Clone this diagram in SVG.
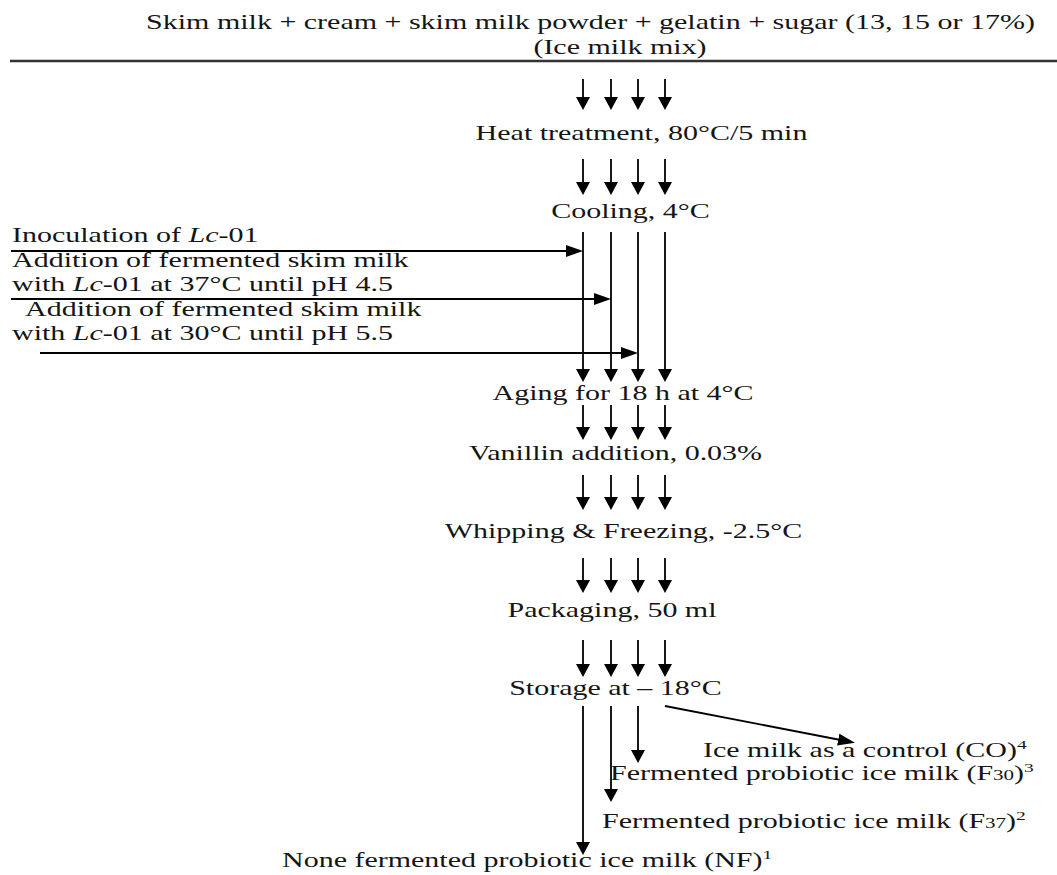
<svg xmlns="http://www.w3.org/2000/svg" width="1057" height="875" viewBox="0 0 1057 875">
<style>
.t{font-family:"Liberation Serif","Times New Roman",serif;font-size:20px;fill:#151515}
.c{text-anchor:middle}
.i{font-style:italic}
.sup{font-size:13px}
.sm{font-size:14px}
.ln{stroke:#000;stroke-width:1.8;fill:none}
</style>
<defs>
<marker id="av" markerUnits="userSpaceOnUse" markerWidth="14" markerHeight="14" viewBox="0 0 13 14" refX="9" refY="7" orient="auto">
<path d="M0,0 L13,7 L0,14 Z" fill="#000"/>
</marker>
<marker id="ah" markerUnits="userSpaceOnUse" markerWidth="17" markerHeight="13" viewBox="0 0 17 12" refX="13" refY="6" orient="auto">
<path d="M0,0 L17,6 L0,12 Z" fill="#000"/>
</marker>
</defs>
<rect width="1057" height="875" fill="#fff"/>

<g id="mix">
<text class="t c" transform="translate(590.5,29) scale(1.5,1)">Skim milk + cream + skim milk powder + gelatin + sugar (13, 15 or 17%)</text>
<text class="t c" transform="translate(620,54) scale(1.5,1)">(Ice milk mix)</text>
<line x1="10" y1="61" x2="1057" y2="61" stroke="#333" stroke-width="2.5"/>
</g>
<g id="heat"><text class="t c" transform="translate(641.5,140) scale(1.5,1)">Heat treatment, 80°C/5 min</text></g>
<g id="cooling"><text class="t c" transform="translate(630.5,218) scale(1.5,1)">Cooling, 4°C</text></g>
<g id="inoc"><text class="t" transform="translate(12,242) scale(1.5,1)">Inoculation of <tspan class="i">Lc</tspan>-01</text></g>
<g id="add37">
<text class="t" transform="translate(12,267) scale(1.5,1)">Addition of fermented skim milk</text>
<text class="t" transform="translate(12,291) scale(1.5,1)">with <tspan class="i">Lc</tspan>-01 at 37°C until pH 4.5</text>
</g>
<g id="add30">
<text class="t" transform="translate(25,316) scale(1.5,1)">Addition of fermented skim milk</text>
<text class="t" transform="translate(12,340) scale(1.5,1)">with <tspan class="i">Lc</tspan>-01 at 30°C until pH 5.5</text>
</g>
<g id="aging"><text class="t c" transform="translate(623,400) scale(1.5,1)">Aging for 18 h at 4°C</text></g>
<g id="vanillin"><text class="t c" transform="translate(615.5,460) scale(1.5,1)">Vanillin addition, 0.03%</text></g>
<g id="whipping"><text class="t c" transform="translate(623.5,538) scale(1.5,1)">Whipping &amp; Freezing, -2.5°C</text></g>
<g id="packaging"><text class="t c" transform="translate(612,617) scale(1.5,1)">Packaging, 50 ml</text></g>
<g id="storage"><text class="t c" transform="translate(615.5,695) scale(1.5,1)">Storage at – 18°C</text></g>
<g id="co"><text class="t" transform="translate(703,757) scale(1.5,1)">Ice milk as a control (CO)<tspan class="sup" dy="-8">4</tspan></text></g>
<g id="f30"><text class="t" transform="translate(610,780) scale(1.5,1)">Fermented probiotic ice milk (F<tspan class="sm">30</tspan>)<tspan class="sup" dy="-8">3</tspan></text></g>
<g id="f37"><text class="t" transform="translate(602,828) scale(1.5,1)">Fermented probiotic ice milk (F<tspan class="sm">37</tspan>)<tspan class="sup" dy="-8">2</tspan></text></g>
<g id="nf"><text class="t" transform="translate(282,867) scale(1.5,1)">None fermented probiotic ice milk (NF)<tspan class="sup" dy="-8">1</tspan></text></g>

<g id="connectors" class="ln">
<g marker-end="url(#av)">
<line x1="583" y1="79" x2="583" y2="106"/><line x1="611" y1="79" x2="611" y2="106"/><line x1="638" y1="79" x2="638" y2="106"/><line x1="665" y1="79" x2="665" y2="106"/>
<line x1="583" y1="159" x2="583" y2="191"/><line x1="611" y1="159" x2="611" y2="191"/><line x1="638" y1="159" x2="638" y2="191"/><line x1="665" y1="159" x2="665" y2="191"/>
<line x1="583" y1="232" x2="583" y2="378"/><line x1="611" y1="232" x2="611" y2="378"/><line x1="638" y1="232" x2="638" y2="378"/><line x1="665" y1="232" x2="665" y2="378"/>
<line x1="583" y1="405" x2="583" y2="436"/><line x1="611" y1="405" x2="611" y2="436"/><line x1="638" y1="405" x2="638" y2="436"/><line x1="665" y1="405" x2="665" y2="436"/>
<line x1="583" y1="475" x2="583" y2="506"/><line x1="611" y1="475" x2="611" y2="506"/><line x1="638" y1="475" x2="638" y2="506"/><line x1="665" y1="475" x2="665" y2="506"/>
<line x1="583" y1="558" x2="583" y2="589"/><line x1="611" y1="558" x2="611" y2="589"/><line x1="638" y1="558" x2="638" y2="589"/><line x1="665" y1="558" x2="665" y2="589"/>
<line x1="583" y1="640" x2="583" y2="673"/><line x1="611" y1="640" x2="611" y2="673"/><line x1="638" y1="640" x2="638" y2="673"/><line x1="665" y1="640" x2="665" y2="673"/>
<line x1="638" y1="706" x2="638" y2="759"/>
<line x1="611" y1="706" x2="611" y2="798"/>
<line x1="583" y1="706" x2="583" y2="851"/>
</g>
<g marker-end="url(#ah)">
<line x1="11" y1="251" x2="579" y2="251"/>
<line x1="11" y1="299" x2="607" y2="299"/>
<line x1="40" y1="353" x2="634" y2="353"/>
<line x1="665" y1="706" x2="851" y2="742"/>
</g>
</g>
</svg>
